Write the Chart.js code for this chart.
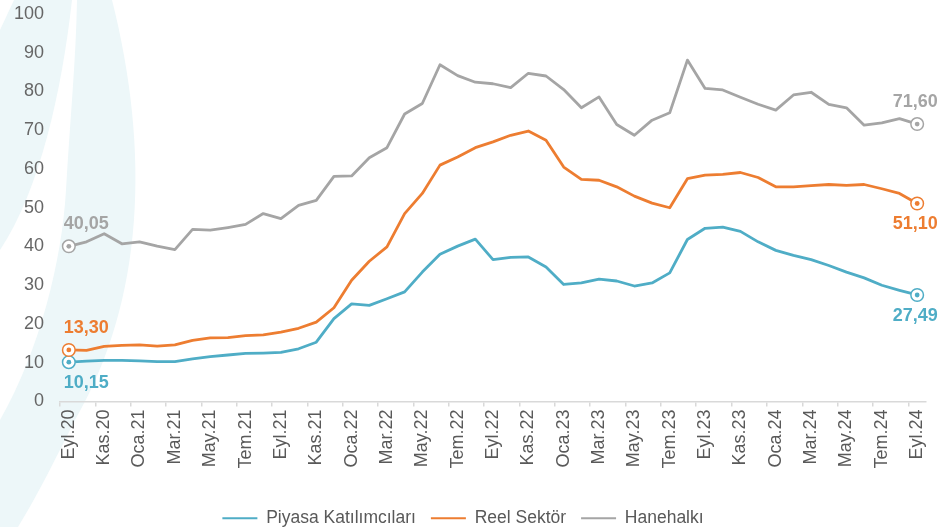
<!DOCTYPE html>
<html>
<head>
<meta charset="utf-8">
<script src="https://cdn.jsdelivr.net/npm/chart.js@4.4.1/dist/chart.umd.min.js"></script>
<style>
html,body{margin:0;padding:0;background:#fff}
#wrap{width:938px;height:527px}
</style>
</head>
<body>
<div id="wrap"><canvas id="chart" width="938" height="527"></canvas></div>
<script>
const months=["Eyl.20","Eki.20","Kas.20","Ara.20","Oca.21","Şub.21","Mar.21","Nis.21","May.21","Haz.21","Tem.21","Ağu.21",
"Eyl.21","Eki.21","Kas.21","Ara.21","Oca.22","Şub.22","Mar.22","Nis.22","May.22","Haz.22","Tem.22","Ağu.22",
"Eyl.22","Eki.22","Kas.22","Ara.22","Oca.23","Şub.23","Mar.23","Nis.23","May.23","Haz.23","Tem.23","Ağu.23",
"Eyl.23","Eki.23","Kas.23","Ara.23","Oca.24","Şub.24","Mar.24","Nis.24","May.24","Haz.24","Tem.24","Ağu.24","Eyl.24"]

const piyasa=[10.15,10.4,10.6,10.6,10.5,10.3,10.3,11.0,11.6,12.0,12.4,12.5,12.7,13.6,15.3,21.4,25.2,24.8,26.5,28.3,
33.4,38.0,40.1,41.9,36.6,37.2,37.3,34.7,30.2,30.6,31.6,31.1,29.8,30.6,33.2,41.8,44.7,45.0,43.9,41.2,
39.0,37.7,36.6,35.1,33.4,31.9,30.0,28.7,27.49]

const reel=[13.3,13.2,14.2,14.5,14.6,14.3,14.6,15.8,16.4,16.5,17.0,17.2,17.9,18.9,20.5,24.2,31.3,36.2,39.9,48.5,
53.7,61.0,63.1,65.5,67.0,68.7,69.8,67.4,60.5,57.3,57.1,55.4,53.0,51.2,50.0,57.5,58.4,58.6,59.1,57.8,
55.4,55.4,55.7,56.0,55.8,56.0,54.9,53.7,51.1]

const hane=[40.05,41.2,43.3,40.7,41.2,40.1,39.2,44.4,44.2,44.9,45.7,48.5,47.2,50.6,51.9,58.1,58.2,62.9,65.5,74.2,
76.9,86.9,84.1,82.4,82.0,81.0,84.7,84.0,80.5,75.8,78.6,71.5,68.7,72.6,74.5,88.1,80.8,80.4,78.5,76.7,
75.2,79.1,79.8,76.7,75.8,71.3,71.9,73.0,71.6]

const BLUE="#4fadc6",ORANGE="#ed7d31",GRAY="#a5a5a5"
const FONT="'Liberation Sans', Arial, sans-serif"

// faint crescent behind the plot
const backdrop={
id:"backdrop",
beforeDraw(chart){
const c=chart.ctx
c.save()
c.fillStyle="#fff"
c.fillRect(0,0,chart.width,chart.height)
c.fillStyle="#edf7f9"
c.beginPath()
c.moveTo(0,30)
c.lineTo(14,0)
c.lineTo(72,0)
c.bezierCurveTo(62,90,40,190,0,250)
c.closePath()
c.fill()
c.beginPath()
c.moveTo(77,0)
c.lineTo(112,0)
c.bezierCurveTo(150,150,145,300,75,420)
c.bezierCurveTo(55,460,35,500,18,527)
c.lineTo(0,527)
c.lineTo(0,420)
c.bezierCurveTo(40,350,62,260,66,190)
c.bezierCurveTo(70,120,76,60,77,0)
c.closePath()
c.fill()
c.restore()
}
}

// rings + value labels on first and last point
const endLabels={
id:"endLabels",
afterDatasetsDraw(chart){
const c=chart.ctx
const place=[["below","below"],["above","below"],["above","above"]]
chart.data.datasets.forEach((ds,d)=>{
const meta=chart.getDatasetMeta(d)
const last=ds.data.length-1
;[0,last].forEach((i,k)=>{
const p=meta.data[i]
c.save()
c.beginPath()
c.arc(p.x,p.y,6.3,0,Math.PI*2)
c.fillStyle="#fff"
c.fill()
c.lineWidth=1.5
c.strokeStyle=ds.borderColor
c.stroke()
c.beginPath()
c.arc(p.x,p.y,2.4,0,Math.PI*2)
c.fillStyle=ds.borderColor
c.fill()
c.font="bold 18px "+FONT
c.fillStyle=ds.borderColor
const txt=ds.data[i].toFixed(2).replace(".",",")
const pos=place[d][k]
c.textAlign=k===0?"left":"center"
const tx=k===0?p.x-5:p.x-2
if(pos==="above"){c.textBaseline="bottom";c.fillText(txt,tx,p.y-13)}
else{c.textBaseline="top";c.fillText(txt,tx,p.y+12)}
c.restore()
})
})
}
}

const ctx=document.getElementById("chart").getContext("2d")

new Chart(ctx,{
type:"line",
data:{
labels:months,
datasets:[
{label:"Piyasa Katılımcıları",data:piyasa,borderColor:BLUE,backgroundColor:BLUE},
{label:"Reel Sektör",data:reel,borderColor:ORANGE,backgroundColor:ORANGE},
{label:"Hanehalkı",data:hane,borderColor:GRAY,backgroundColor:GRAY}
]
},
options:{
responsive:false,
animation:false,
events:[],
elements:{
line:{borderWidth:2.8,tension:0,borderJoinStyle:"round"},
point:{radius:0}
},
layout:{padding:{left:0,right:12,top:14,bottom:-10}},
scales:{
x:{
offset:true,
grid:{
offset:true,
drawOnChartArea:false,
tickLength:5,
lineWidth:1.5,
color:c=>c.index%2===0?"#d9d9d9":"rgba(0,0,0,0)"
},
border:{display:true,color:"#d9d9d9",width:1.5},
ticks:{
autoSkip:false,
minRotation:90,
maxRotation:90,
padding:3,
color:"#595959",
font:{family:FONT,size:18},
callback:(v,i)=>i%2===0?months[i]:""
},
afterFit:s=>{s.height=93;s.paddingLeft=0;s.paddingRight=0}
},
y:{
min:0,
max:100,
grid:{display:false},
border:{display:false},
ticks:{
stepSize:10,
padding:8,
color:"#666",
font:{family:FONT,size:18}
},
afterFit:s=>{s.width=60;s.paddingTop=0;s.paddingBottom=0}
}
},
plugins:{
tooltip:{enabled:false},
legend:{
position:"bottom",
labels:{
boxWidth:35,
boxHeight:2,
padding:15,
color:"#595959",
font:{family:FONT,size:17.5},
generateLabels:chart=>Chart.defaults.plugins.legend.labels.generateLabels(chart).map(l=>({...l,lineWidth:0}))
}
}
}
},
plugins:[backdrop,endLabels]
})
</script>
</body>
</html>
